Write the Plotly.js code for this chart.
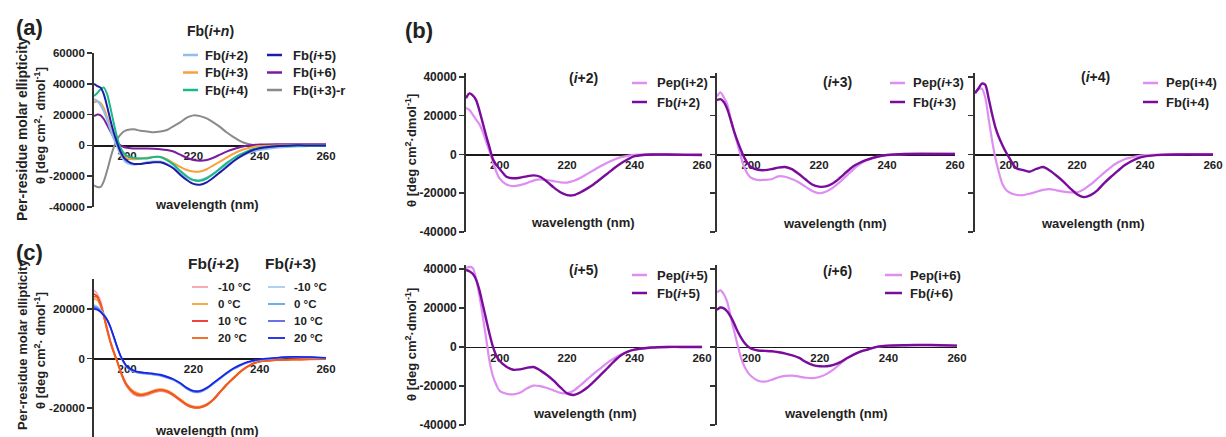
<!DOCTYPE html>
<html>
<head>
<meta charset="utf-8">
<script src="https://cdn.plot.ly/plotly-3.0.1.min.js"></script>
<style>html,body{margin:0;padding:0;background:#fff;}#chart{width:1226px;height:437px;}</style>
</head>
<body>
<div id="chart"></div>
<script>
// ---------------- DATA ----------------
const wl = [190,191,192,193,194,195,196,197,198,199,200,202,204,206,208,210,212,214,216,218,220,222,224,226,228,230,232,234,236,238,240,245,250,255,260];

// Panel (a): Fb(i+n)
const aNames = ['Fb(<i>i</i>+2)','Fb(<i>i</i>+3)','Fb(<i>i</i>+4)','Fb(<i>i</i>+5)','Fb(i+6)','Fb(i+3)-r'];
const aFbI2 = [30000,29000,26000,22000,16000,10000,4000,-1000,-6000,-9500,-11500,-12500,-12000,-11000,-10500,-10500,-12000,-14500,-18000,-21000,-22500,-22500,-21000,-18500,-15500,-12500,-10000,-7500,-5500,-4000,-3000,-1500,-800,-400,-200];
const aFbI3 = [28000,28500,27500,24000,18000,11000,5000,0,-4000,-7000,-8500,-9000,-8500,-8000,-7500,-7500,-9000,-11500,-14000,-16000,-17000,-17000,-15500,-13000,-10500,-8000,-5500,-3500,-2000,-1000,-400,0,200,300,300];
const aFbI4 = [32000,34000,36500,37500,33000,24000,14000,5000,-1500,-5000,-7000,-8000,-8500,-8500,-7500,-7500,-9500,-12500,-16500,-20000,-22500,-23000,-21500,-18500,-15000,-11500,-8500,-6000,-4000,-2500,-1500,-400,0,0,0];
const aFbI5 = [40000,38500,37500,33000,25000,16000,8000,1500,-4000,-8000,-10000,-12000,-12000,-11500,-11000,-11000,-12500,-15000,-19000,-22500,-25000,-25500,-24000,-21000,-17500,-14000,-10500,-7500,-5000,-3000,-1800,-500,0,0,0];
const aFbI6 = [19000,20000,19500,17000,13000,9000,5000,2000,0,-1000,-1500,-2000,-2000,-2000,-2200,-2500,-3000,-4000,-6000,-8000,-9500,-10000,-9500,-8000,-6000,-4000,-2500,-1200,-300,300,600,800,800,800,800];
const aFbI3r = [-26000,-27000,-27000,-23000,-16000,-8000,-1000,4000,7000,9000,10000,10500,9500,9000,8500,9000,10000,12500,15000,18000,19500,19000,17500,15000,12000,8500,5500,3000,1200,300,0,0,0,0,0];
const aYTicks = [-40000,-20000,0,20000,40000,60000];

// Panel (b): Pep vs Fb
const bTitles = ['(<i>i</i>+2)','(<i>i</i>+3)','(<i>i</i>+4)','(<i>i</i>+5)','(<i>i</i>+6)'];
const bPepNames = ['Pep(i+2)','Pep(<i>i</i>+3)','Pep(i+4)','Pep(<i>i</i>+5)','Pep(i+6)'];
const bFbNames = ['Fb(<i>i</i>+2)','Fb(<i>i</i>+3)','Fb(i+4)','Fb(<i>i</i>+5)','Fb(<i>i</i>+6)'];
const pepI2 = [24000,23000,20500,18000,15500,11500,6500,1500,-4000,-9000,-12500,-15500,-16300,-15800,-14800,-13500,-12900,-13200,-13800,-14400,-14500,-13600,-12000,-10000,-8000,-6000,-4200,-2600,-1400,-700,-200,0,0,0,0];
const fbI2 = [29000,31500,30500,28000,22500,16000,9500,3500,-2500,-5500,-7500,-11500,-12300,-12000,-11300,-10800,-11500,-14000,-17000,-19500,-21000,-21000,-19500,-17500,-15200,-12500,-9800,-7000,-4500,-2500,-900,0,0,-200,-300];
const pepI3 = [30000,32000,29500,26000,18500,12000,5500,-1000,-6500,-10000,-12000,-13200,-13100,-12800,-11300,-11500,-12700,-14300,-16600,-18800,-20000,-19200,-17200,-14400,-11200,-7800,-5000,-3000,-1700,-900,-300,200,500,400,300];
const fbI3 = [28000,28500,27000,23500,18000,12000,7000,2500,-1500,-4500,-6500,-7900,-8100,-7600,-6800,-6500,-7600,-10000,-12800,-15500,-16600,-16500,-15000,-12300,-9200,-6200,-4300,-2800,-1700,-800,-300,200,200,200,200];
const pepI4 = [32000,33500,34000,29500,18500,7500,-2000,-9000,-15000,-18000,-19500,-20800,-21000,-20300,-19300,-18300,-17900,-18500,-19200,-19600,-19600,-18000,-15500,-12500,-9400,-6500,-4200,-2500,-1500,-800,-300,0,200,200,100];
const fbI4 = [31500,34000,36500,36000,29000,21000,14000,9000,5000,1500,-1500,-7000,-8000,-8900,-7500,-6500,-8300,-11000,-14000,-17500,-20500,-22000,-21000,-18500,-14800,-11500,-8500,-5600,-3500,-1900,-1000,-200,0,0,0];
const pepI5 = [40500,41000,40500,35000,26000,15500,4000,-7500,-15000,-19500,-22500,-24000,-24300,-23500,-21300,-19800,-20100,-21000,-22300,-23500,-23700,-22300,-19500,-16500,-13500,-10800,-8000,-5800,-3900,-2400,-1400,-300,0,0,0];
const fbI5 = [39500,38800,37500,34500,29000,21500,14000,6500,0,-4500,-7200,-10100,-11700,-11500,-10700,-10300,-12000,-14400,-17300,-20700,-23800,-24600,-23200,-20800,-17600,-14200,-10800,-7300,-4300,-2400,-1400,-300,0,0,0];
const pepI6 = [28000,29000,27000,23000,15500,8000,1000,-5500,-10000,-13000,-15000,-17300,-17800,-16800,-15500,-14800,-14700,-15200,-15800,-16000,-15300,-13800,-11500,-8500,-5700,-3800,-2300,-1300,-200,400,700,900,1000,900,700];
const fbI6 = [19000,20200,19800,18200,15500,12000,8000,4800,2200,300,-900,-1800,-2000,-2200,-2700,-3400,-4300,-5600,-7800,-9300,-9900,-9900,-9200,-7800,-5700,-3800,-2300,-1300,-200,400,700,900,1000,900,700];
const bYTicks = [-40000,-20000,0,20000,40000];

// Panel (c): temperature series
const cTemps = ['-10 °C','0 °C','10 °C','20 °C'];
const cGroups = ['Fb(<i>i</i>+2)','Fb(<i>i</i>+3)'];
const cI2m10 = [27500,26000,23000,18000,12500,7000,3000,-1000,-5500,-9000,-11500,-14500,-15300,-14800,-13800,-13200,-13700,-15000,-17000,-18800,-19800,-19800,-18800,-16700,-13700,-10700,-8100,-5600,-3600,-2100,-1300,-700,-400,-300,-200];
const cI2t0 = [24000,23500,21000,16500,11000,6000,2000,-1500,-5000,-8000,-10500,-13200,-14200,-13800,-12800,-12300,-12800,-14300,-16300,-18200,-19200,-19300,-18300,-16300,-13300,-10300,-7800,-5300,-3400,-1900,-1100,-600,-400,-300,-200];
const cI2t10 = [26000,25000,22000,17000,11500,6500,2500,-1000,-5000,-8500,-11000,-13800,-14700,-14200,-13200,-12700,-13200,-14700,-16700,-18600,-19600,-19600,-18600,-16500,-13500,-10500,-8000,-5500,-3500,-2000,-1200,-600,-400,-300,-200];
const cI2t20 = [25000,24500,21500,16800,11200,6200,2200,-1300,-5200,-8700,-11200,-14000,-14900,-14400,-13400,-12900,-13400,-14900,-16900,-18800,-19800,-19800,-18800,-16700,-13700,-10700,-8200,-5700,-3700,-2200,-1300,-700,-500,-400,-300];
const cI3m10 = [21500,21000,19500,17800,15500,12200,8200,4200,800,-1800,-3800,-5300,-6000,-6300,-6600,-7000,-7800,-8800,-10300,-12300,-13600,-13600,-12300,-10300,-8200,-6200,-4400,-3000,-1800,-1100,-600,100,500,400,100];
const cI3t0 = [21000,20500,19200,17600,15400,12300,8400,4400,900,-1600,-3600,-5100,-5800,-6100,-6400,-6800,-7600,-8600,-10100,-12100,-13400,-13400,-12100,-10100,-8100,-6100,-4300,-2900,-1700,-1000,-500,200,600,500,200];
const cI3t10 = [20500,20000,19000,17500,15500,12500,8500,4500,1000,-1500,-3500,-5000,-5700,-6000,-6300,-6700,-7500,-8500,-10000,-12000,-13300,-13300,-12000,-10000,-8000,-6000,-4200,-2800,-1700,-1000,-500,200,600,500,200];
const cI3t20 = [20000,19600,18700,17300,15500,12600,8700,4700,1200,-1300,-3300,-4800,-5500,-5800,-6100,-6500,-7300,-8300,-9800,-11800,-13000,-13000,-11800,-9800,-7800,-5800,-4000,-2600,-1500,-800,-300,300,700,600,300];
const cYTicks = [-20000,0,20000];
const xTicks = [200,220,240,260];

// ---------------- LAYOUT HELPERS ----------------
const W = 1226, H = 437;
const FONT = 'Liberation Sans, Arial, Helvetica, sans-serif';
const INK = '#222';
const px = v => v / W;
const py = v => 1 - v / H;

const aCols = ['#8fbfee','#f7a13e','#1db887','#1c1ca8','#7b1c9e','#8a8a8a'];
const pepCol = '#de8ef2', fbCol = '#7a0c9c';
const cRed = ['#f5a3a8','#f7a040','#ee2e2e','#f2601c'];
const cBlue = ['#a4cbf2','#5fa4ee','#5a62e6','#1424e6'];

// panel boxes in pixels: [x0,x1], [ytop,ybottom]
const panels = [
  {xd:[94,326],  yd:[53,207],  yr:[-40000,60000], yt:aYTicks, lab:true, tf:11.5},   // a
  {xd:[94,326],  yd:[279,437], yr:[-31600,32000], yt:cYTicks, lab:true, tf:11.5},   // c
  {xd:[466,702], yd:[73,232],  yr:[-40000,42000], yt:bYTicks, lab:true, tf:12},     // b i+2
  {xd:[717,955], yd:[73,232],  yr:[-40000,42000], yt:bYTicks, lab:false, tf:12},    // b i+3
  {xd:[975,1213],yd:[73,232],  yr:[-40000,42000], yt:bYTicks, lab:false, tf:12},    // b i+4
  {xd:[466,702], yd:[265,425], yr:[-40000,42000], yt:bYTicks, lab:true, tf:12},     // b i+5
  {xd:[717,957], yd:[265,425], yr:[-40000,42000], yt:bYTicks, lab:false, tf:12}     // b i+6
];

const layout = {
  width: W, height: H, autosize: false,
  margin: {l:0, r:0, t:0, b:0, pad:0},
  paper_bgcolor: '#fff', plot_bgcolor: 'rgba(0,0,0,0)',
  showlegend: false,
  font: {family: FONT, color: INK, weight: 'bold'},
  annotations: [], shapes: []
};

panels.forEach((p, i) => {
  const n = i === 0 ? '' : String(i + 1);
  const zeroPix = p.yd[0] + (p.yr[1] / (p.yr[1] - p.yr[0])) * (p.yd[1] - p.yd[0]);
  layout['xaxis' + n] = {
    domain: [px(p.xd[0]), px(p.xd[1])],
    range: [190, 260],
    anchor: 'free', position: py(zeroPix),
    showline: true, linecolor: '#1a1a1a', linewidth: 1.2,
    ticks: '', tickmode: 'array', tickvals: xTicks, ticktext: xTicks.map(String),
    tickfont: {family: FONT, size: 11.5, color: INK, weight: 'bold'},
    showgrid: false, zeroline: false, layer: 'below traces', fixedrange: true
  };
  layout['yaxis' + n] = {
    domain: [py(p.yd[1]), py(p.yd[0])],
    range: p.yr,
    anchor: 'x' + n,
    showline: true, linecolor: '#333', linewidth: 1.8,
    ticks: 'outside', ticklen: 5, tickwidth: 1.5, tickcolor: '#333',
    tickmode: 'array', tickvals: p.yt, ticktext: p.yt.map(String),
    showticklabels: p.lab,
    tickfont: {family: FONT, size: p.tf, color: INK, weight: 'bold'},
    showgrid: false, zeroline: false, fixedrange: true
  };
});

function ann(text, x, y, size, extra) {
  layout.annotations.push(Object.assign({
    text: text, xref: 'paper', yref: 'paper', x: px(x), y: py(y),
    xanchor: 'center', yanchor: 'middle', showarrow: false,
    font: {family: FONT, size: size, color: INK, weight: 'bold'}
  }, extra || {}));
}
function legItem(name, color, x0, x1, tx, y, size, w) {
  layout.shapes.push({type:'line', xref:'paper', yref:'paper', x0:px(x0), x1:px(x1), y0:py(y), y1:py(y),
    line:{color: color, width: w || 2.5}});
  ann(name, tx, y, size, {xanchor: 'left'});
}

// ---------------- TRACES ----------------
const traces = [];
function line(ax, y, color, width, name) {
  traces.push({x: wl, y: y, type: 'scatter', mode: 'lines', name: name,
    xaxis: 'x' + ax, yaxis: 'y' + ax,
    line: {color: color, width: width, shape: 'spline', smoothing: 0.7},
    hoverinfo: 'skip'});
}

// (a)
const aSeries = [aFbI2, aFbI3, aFbI4, aFbI5, aFbI6, aFbI3r];
[5, 4, 1, 0, 2, 3].forEach(k => line('', aSeries[k], aCols[k], 2, aNames[k]));

// (c)
const cI2 = [cI2m10, cI2t0, cI2t10, cI2t20];
const cI3 = [cI3m10, cI3t0, cI3t10, cI3t20];
cI2.forEach((s, k) => line('2', s, cRed[k], 1.6, cTemps[k]));
cI3.forEach((s, k) => line('2', s, cBlue[k], 1.6, cTemps[k]));

// (b)
const pepS = [pepI2, pepI3, pepI4, pepI5, pepI6];
const fbS = [fbI2, fbI3, fbI4, fbI5, fbI6];
pepS.forEach((s, k) => {
  line(String(k + 3), s, pepCol, 2.2, bPepNames[k]);
  line(String(k + 3), fbS[k], fbCol, 2.4, bFbNames[k]);
});

// ---------------- TEXT / LEGENDS ----------------
ann('(a)', 29, 27, 22);
ann('(b)', 419, 30, 22);
ann('(c)', 29, 252, 22);

// panel (a)
ann('Fb(<i>i</i>+<i>n</i>)', 210, 31, 14);
[0,1,2].forEach(k => legItem(aNames[k], aCols[k], 183, 198, 203, 55 + k * 17.5, 13));
[3,4,5].forEach(k => legItem(aNames[k], aCols[k], 267, 282, 291, 55 + (k - 3) * 17.5, 13));
ann('wavelength (nm)', 207, 205, 13);
ann('Per-residue molar ellipticity', 22, 129, 14, {textangle: -90});
ann('θ [deg cm<sup>2</sup>· dmol<sup>-1</sup>]', 40, 126, 13, {textangle: -90});

// panel (c)
ann(cGroups[0], 213, 263, 15.5);
ann(cGroups[1], 290, 263, 15.5);
const cRows = [287, 304, 321, 338];
cTemps.forEach((t, k) => {
  legItem(t, cRed[k], 192, 208, 216, cRows[k], 11.5, 1.8);
  legItem(t, cBlue[k], 268, 285, 292, cRows[k], 11.5, 1.8);
});
ann('wavelength (nm)', 207, 430, 13);
ann('Per-residue molar ellipticity', 22, 345, 13, {textangle: -90});
ann('θ [deg cm<sup>2</sup>· dmol<sup>-1</sup>]', 40, 351, 13, {textangle: -90});

// panel (b)
const bBox = [
  {title:[583,78],  leg:[632,647,655], rows:[83,102],  xt:[583,222]},
  {title:[837,82],  leg:[890,905,911], rows:[83,102],  xt:[835,223]},
  {title:[1095,77], leg:[1143,1158,1164], rows:[83,102], xt:[1093,223]},
  {title:[583,270], leg:[632,647,655], rows:[275,293], xt:[585,413]},
  {title:[837,271], leg:[885,902,908], rows:[275,293], xt:[836,413]}
];
bBox.forEach((b, k) => {
  ann(bTitles[k], b.title[0], b.title[1], 14);
  legItem(bPepNames[k], pepCol, b.leg[0], b.leg[1], b.leg[2], b.rows[0], 13, 2.5);
  legItem(bFbNames[k], fbCol, b.leg[0], b.leg[1], b.leg[2], b.rows[1], 13, 2.5);
  ann('wavelength (nm)', b.xt[0], b.xt[1], 13);
});
ann('θ [deg cm<sup>2</sup>·dmol<sup>-1</sup>]', 411, 151, 13, {textangle: -90});
ann('θ [deg cm<sup>2</sup>·dmol<sup>-1</sup>]', 411, 345, 13, {textangle: -90});

Plotly.newPlot('chart', traces, layout, {staticPlot: true, displayModeBar: false});
</script>
</body>
</html>
